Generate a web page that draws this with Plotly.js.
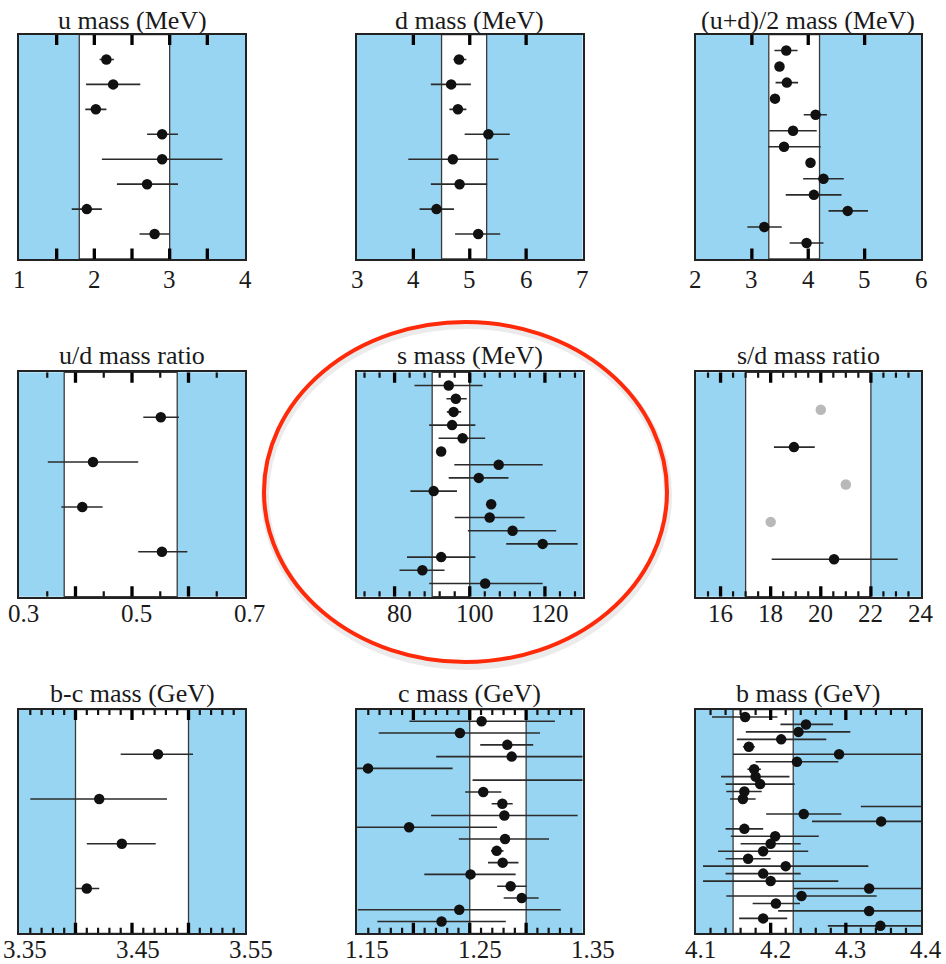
<!DOCTYPE html>
<html>
<head>
<meta charset="utf-8">
<script src="https://cdn.plot.ly/plotly-3.0.1.min.js"></script>
<style>html,body{margin:0;padding:0;background:#fff;}</style>
</head>
<body>
<div id="chart" style="width:946px;height:964px;"></div>
<script>
// ---- Quark mass determinations: central value, lower error, upper error ----

// u mass (MeV)
const uMass   = [2.16, 2.25, 2.02, 2.90, 2.90, 2.70, 1.90, 2.80];
const uMassLo = [0.09, 0.36, 0.14, 0.20, 0.80, 0.40, 0.20, 0.20];
const uMassHi = [0.10, 0.36, 0.14, 0.21, 0.80, 0.41, 0.20, 0.20];
const uBand   = [1.8, 3.0];

// d mass (MeV)
const dMass   = [4.81, 4.67, 4.79, 5.33, 4.70, 4.82, 4.41, 5.15];
const dMassLo = [0.10, 0.36, 0.15, 0.42, 0.79, 0.51, 0.30, 0.41];
const dMassHi = [0.13, 0.35, 0.15, 0.38, 0.81, 0.49, 0.31, 0.39];
const dBand   = [4.5, 5.3];

// (u+d)/2 mass (MeV)
const udMass   = [3.61, 3.49, 3.62, 3.41, 4.13, 3.73, 3.57, 4.04, 4.27, 4.10, 4.70, 3.22, 3.97];
const udMassLo = [0.21, 0.00, 0.20, 0.00, 0.21, 0.42, 0.28, 0.00, 0.36, 0.50, 0.34, 0.30, 0.30];
const udMassHi = [0.20, 0.00, 0.20, 0.00, 0.20, 0.42, 0.65, 0.00, 0.36, 0.49, 0.36, 0.31, 0.30];
const udBand   = [3.3, 4.2];

// u/d mass ratio
const uOverD   = [0.551, 0.431, 0.412, 0.553];
const uOverDLo = [0.031, 0.080, 0.037, 0.042];
const uOverDHi = [0.032, 0.080, 0.036, 0.045];
const uOverDBand = [0.38, 0.58];

// s mass (MeV)
const sMass   = [94.4, 96.3, 95.7, 95.3, 98.1, 92.4, 107.7, 102.4, 90.4, 105.7, 105.3, 111.4, 119.4, 92.4, 87.4, 104.1];
const sMassLo = [9.1, 2.5, 1.8, 6.1, 6.4, 0, 11.8, 8.0, 6.2, 0, 9.3, 11.9, 9.7, 9.1, 6.1, 14.9];
const sMassHi = [9.0, 2.9, 2.0, 6.2, 6.0, 0, 11.7, 7.9, 6.2, 0, 9.3, 11.6, 9.3, 9.1, 5.9, 15.3];
const sBand   = [90, 100];

// s/d mass ratio (grey entries carry no quoted error)
const sOverD     = [20.0, 18.93, 21.0, 18.0, 20.53];
const sOverDLo   = [0, 0.80, 0, 0, 2.49];
const sOverDHi   = [0, 0.83, 0, 0, 2.54];
const sOverDGrey = [true, false, true, true, false];
const sOverDBand = [17, 22];

// b-c mass difference (GeV)
const bcMass   = [3.473, 3.421, 3.441, 3.410];
const bcMassLo = [0.033, 0.061, 0.031, 0.010];
const bcMassHi = [0.031, 0.060, 0.030, 0.011];
const bcBand   = [3.40, 3.50];

// c mass (GeV)
const cMass   = [1.2605, 1.2413, 1.2833, 1.2872, 1.1598, 1.3700, 1.2620, 1.2789, 1.2807, 1.1962, 1.2813, 1.2739, 1.2792, 1.2507, 1.2863, 1.2961, 1.2407, 1.2250];
const cMassLo = [0.064, 0.072, 0.024, 0.067, 0.075, 0.1175, 0.016, 0.0095, 0.065, 0.078, 0.041, 0.005, 0.013, 0.041, 0.012, 0.016, 0.090, 0.057];
const cMassHi = [0.065, 0.071, 0.023, 0.067, 0.075, 0.1175, 0.016, 0.0092, 0.065, 0.078, 0.039, 0.006, 0.014, 0.040, 0.014, 0.015, 0.090, 0.057];
const cBand   = [1.25, 1.30];

// b mass (GeV)
const bMass   = [4.166, 4.247, 4.237, 4.214, 4.171, 4.291, 4.235, 4.178, 4.180, 4.186, 4.165, 4.163, 4.440, 4.244, 4.347,
                 4.165, 4.206, 4.200, 4.190, 4.170, 4.220, 4.190, 4.200, 4.331, 4.241, 4.207, 4.331, 4.190, 4.346];
const bMassLo = [0.044, 0.034, 0.070, 0.059, 0.008, 0.141, 0.055, 0.009, 0.046, 0.046, 0.024, 0.017, 0.120, 0.050, 0.092,
                 0.025, 0.059, 0.040, 0.060, 0.030, 0.110, 0.050, 0.090, 0.100, 0.100, 0.031, 0.121, 0.032, 0.070];
const bMassHi = [0.043, 0.036, 0.069, 0.060, 0.008, 0.141, 0.055, 0.009, 0.045, 0.046, 0.023, 0.017, 0.120, 0.050, 0.092,
                 0.025, 0.058, 0.040, 0.060, 0.030, 0.110, 0.050, 0.090, 0.100, 0.100, 0.032, 0.121, 0.032, 0.070];
const bBand   = [4.15, 4.23];

// Panel titles and axis tick labels
const titles = ['u mass (MeV)', 'd mass (MeV)', '(u+d)/2 mass (MeV)',
                'u/d mass ratio', 's mass (MeV)', 's/d mass ratio',
                'b-c mass (GeV)', 'c mass (GeV)', 'b mass (GeV)'];
const tickVals = [
  [1, 1.5, 2, 2.5, 3, 3.5, 4],
  [3, 4, 5, 6, 7],
  [2, 3, 4, 5, 6],
  [0.3, 0.4, 0.5, 0.6, 0.7],
  [80, 100, 120],
  [16, 18, 20, 22, 24],
  [3.35, 3.40, 3.45, 3.50, 3.55],
  [1.15, 1.20, 1.25, 1.30, 1.35],
  [4.1, 4.2, 4.3, 4.4]
];
const tickText = [
  ['1', '', '2', '', '3', '', '4'],
  ['3', '4', '5', '6', '7'],
  ['2', '3', '4', '5', '6'],
  ['0.3', '', '0.5', '', '0.7'],
  ['80', '100', '120'],
  ['16', '18', '20', '22', '24'],
  ['3.35', '', '3.45', '', '3.55'],
  ['1.15', '', '1.25', '', '1.35'],
  ['4.1', '4.2', '4.3', '4.4']
];

// ---- Layout geometry (pixels in a 946 x 964 page) ----
const W = 946, H = 964;
const px = v => v / W;
const py = v => 1 - v / H;
const colPx = [[19, 245], [357, 582.5], [695.5, 921]];
const rowPx = [[34.5, 259], [372.3, 596.7], [709.5, 933.3]];
const titleY = [20, 355, 693];
const labelY = [279, 613, 949];
const labelShift = [0, 0, 0, 4, 5, 0, 6, 10, 5];

const panels = [
  {v: uMass,  lo: uMassLo,  hi: uMassHi,  band: uBand,  range: [1, 4]},
  {v: dMass,  lo: dMassLo,  hi: dMassHi,  band: dBand,  range: [3, 7]},
  {v: udMass, lo: udMassLo, hi: udMassHi, band: udBand, range: [2, 6]},
  {v: uOverD, lo: uOverDLo, hi: uOverDHi, band: uOverDBand, range: [0.3, 0.7], minor: {tick0: 0.3, dtick: 0.05}},
  {v: sMass,  lo: sMassLo,  hi: sMassHi,  band: sBand,  range: [70, 130], minor: {tick0: 0, dtick: 4}},
  {v: sOverD, lo: sOverDLo, hi: sOverDHi, band: sOverDBand, range: [15, 24], minor: {tick0: 15, dtick: 0.5}, grey: sOverDGrey},
  {v: bcMass, lo: bcMassLo, hi: bcMassHi, band: bcBand, range: [3.35, 3.55], minor: {tick0: 3.35, dtick: 0.01}},
  {v: cMass,  lo: cMassLo,  hi: cMassHi,  band: cBand,  range: [1.15, 1.35], minor: {tick0: 1.15, dtick: 0.01}},
  {v: bMass,  lo: bMassLo,  hi: bMassHi,  band: bBand,  range: [4.1, 4.4], minor: {tick0: 4.1, dtick: 0.02}}
];

const FONT = 'Liberation Serif, Times New Roman, serif';
const BLUE = '#98d5f2';
const traces = [];
const tickTraces = [];
const shapes = [];
const annotations = [];
const layout = {
  width: W, height: H,
  margin: {l: 0, r: 0, t: 0, b: 0},
  paper_bgcolor: '#ffffff',
  plot_bgcolor: BLUE,
  showlegend: false,
  font: {family: FONT, color: '#1a1a1a'}
};

panels.forEach((p, i) => {
  const id = i === 0 ? '' : String(i + 1);
  const col = i % 3, row = Math.floor(i / 3);
  const rows = p.v.map((_, k) => k + 1);
  const plotH = rowPx[row][1] - rowPx[row][0];
  const yBottom = p.v.length + 1;          // y-axis runs top (0) to bottom (n+1)
  const perPx = yBottom / plotH;           // y-units per pixel

  const errTrace = (idx, colour, withErr) => ({
    type: 'scatter', mode: 'markers',
    x: idx.map(k => p.v[k]),
    y: idx.map(k => rows[k]),
    xaxis: 'x' + id, yaxis: 'y' + id,
    marker: {size: 10.5, color: colour},
    error_x: withErr ? {
      type: 'data', symmetric: false,
      array: idx.map(k => p.hi[k]), arrayminus: idx.map(k => p.lo[k]),
      color: '#2b2b2b', thickness: 1.6, width: 0
    } : {visible: false},
    hoverinfo: 'x'
  });

  const all = p.v.map((_, k) => k);
  if (p.grey) {
    traces.push(errTrace(all.filter(k => p.grey[k]), '#b9b9b9', false));
    traces.push(errTrace(all.filter(k => !p.grey[k]), '#111111', true));
  } else {
    traces.push(errTrace(all, '#111111', true));
  }

  layout['xaxis' + id] = {
    domain: [px(colPx[col][0]), px(colPx[col][1])],
    anchor: 'y' + id, range: p.range,
    showticklabels: false, ticks: '',
    showline: true, mirror: true, linecolor: '#222', linewidth: 1.6,
    showgrid: false, zeroline: false, fixedrange: true
  };
  layout['yaxis' + id] = {
    domain: [py(rowPx[row][1]), py(rowPx[row][0])],
    anchor: 'x' + id, range: [yBottom, 0],
    showticklabels: false, ticks: '',
    showline: true, mirror: true, linecolor: '#222', linewidth: 1.6,
    showgrid: false, zeroline: false, fixedrange: true
  };

  // white band of the average range, with its edge lines
  shapes.push({
    type: 'rect', layer: 'below',
    xref: 'x' + id, yref: 'y' + id + ' domain',
    x0: p.band[0], x1: p.band[1], y0: 0, y1: 1,
    fillcolor: '#ffffff', line: {color: '#3a3a3a', width: 1.3}
  });

  // frame tick marks (top and bottom edges), drawn as short line segments
  const span = p.range[1] - p.range[0];
  const eps = span * 1e-6;
  const tickPath = (positions, lenPx) => {
    const xs = [], ys = [];
    const L = lenPx * perPx;
    positions.forEach(t => {
      xs.push(t, t, null, t, t, null);
      ys.push(0, L, null, yBottom, yBottom - L, null);
    });
    return {xs, ys};
  };
  const majors = tickVals[i].filter(t => t > p.range[0] + eps && t < p.range[1] - eps);
  const maj = tickPath(majors, 10.5);
  tickTraces.push({
    type: 'scatter', mode: 'lines', x: maj.xs, y: maj.ys,
    xaxis: 'x' + id, yaxis: 'y' + id,
    line: {color: '#000000', width: 3.3, simplify: false}, hoverinfo: 'none'
  });
  if (p.minor) {
    const d = p.minor.dtick;
    const minors = [];
    const n0 = Math.ceil((p.range[0] - p.minor.tick0) / d - 1e-6);
    for (let k = n0; k < n0 + 200; k++) {
      const t = p.minor.tick0 + k * d;
      if (t >= p.range[1] - eps) break;
      if (t <= p.range[0] + eps) continue;
      if (tickVals[i].some(m => Math.abs(m - t) < eps * 10)) continue;
      minors.push(t);
    }
    const mn = tickPath(minors, 5.5);
    tickTraces.push({
      type: 'scatter', mode: 'lines', x: mn.xs, y: mn.ys,
      xaxis: 'x' + id, yaxis: 'y' + id,
      line: {color: '#111111', width: 2.2, simplify: false}, hoverinfo: 'none'
    });
  }

  tickVals[i].forEach((t, k) => {
    if (tickText[i][k] === '') return;
    annotations.push({
      xref: 'x' + id, yref: 'paper', x: t, y: py(labelY[row]),
      xanchor: 'center', yanchor: 'middle', xshift: labelShift[i],
      text: tickText[i][k], showarrow: false,
      font: {family: FONT, size: 25, color: '#1a1a1a'}
    });
  });

  annotations.push({
    xref: 'paper', yref: 'paper',
    x: px((colPx[col][0] + colPx[col][1]) / 2), y: py(titleY[row]),
    xanchor: 'center', yanchor: 'middle',
    text: titles[i], showarrow: false,
    font: {family: FONT, size: 26, color: '#1a1a1a'}
  });
});

// red highlight ring round the s-mass panel, with a soft shadow
shapes.push({
  type: 'circle', layer: 'above', xref: 'paper', yref: 'paper',
  x0: px(265), x1: px(668), y0: py(666), y1: py(325),
  line: {color: 'rgba(0,0,0,0.08)', width: 8}
});
shapes.push({
  type: 'circle', layer: 'above', xref: 'paper', yref: 'paper',
  x0: px(264), x1: px(667), y0: py(662), y1: py(322),
  line: {color: '#ff2a0a', width: 4}
});

layout.shapes = shapes;
layout.annotations = annotations;

Plotly.newPlot('chart', traces.concat(tickTraces), layout, {displayModeBar: false});
</script>
</body>
</html>
